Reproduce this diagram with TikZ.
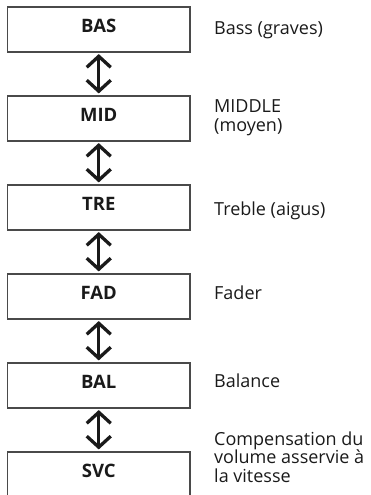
\documentclass[tikz,border=0pt]{standalone}
\usepackage{fontspec}
\setmainfont{Open Sans}
\usetikzlibrary{arrows.meta}
\definecolor{ink}{HTML}{1A1A1A}
\definecolor{frame}{HTML}{4A4A4A}
\tikzset{
  menubox/.style={draw=frame, line width=1.1pt, minimum width=182.5pt, minimum height=45pt,
    inner sep=0pt, text=ink, font=\fontsize{18.5}{20}\bfseries\selectfont, text height=12.5pt, text depth=7pt},
  sidelabel/.style={anchor=base west, inner sep=0pt, align=left, text=ink, font=\fontsize{18}{18.5}\selectfont},
  updown/.style={draw=ink, line width=3.3pt, line join=miter,
    {Straight Barb[length=11pt,width=24pt,line join=miter]}-{Straight Barb[length=11pt,width=24pt,line join=miter]},
    shorten <=1.5pt, shorten >=2pt}
}
\begin{document}
\begin{tikzpicture}[x=1pt,y=-1pt]
\useasboundingbox (0,0) rectangle (371,495);
\node[menubox] (bas) at (98.75,29.5) {BAS};
\node[menubox] (mid) at (98.75,118.5) {MID};
\node[menubox] (tre) at (98.75,207.5) {TRE};
\node[menubox] (fad) at (98.75,296.5) {FAD};
\node[menubox] (bal) at (98.75,385.5) {BAL};
\node[menubox] (svc) at (98.75,474.5) {SVC};
\draw[updown] (bas.south) -- (mid.north);
\draw[updown] (mid.south) -- (tre.north);
\draw[updown] (tre.south) -- (fad.north);
\draw[updown] (fad.south) -- (bal.north);
\draw[updown] (bal.south) -- (svc.north);
\node[sidelabel] (lbas) at (214,35) {Bass (graves)};
\node[sidelabel] (lmid) at (214,131) {MIDDLE\\(moyen)};
\node[sidelabel] (ltre) at (214,215) {Treble (aigus)};
\node[sidelabel] (lfad) at (214,299) {Fader};
\node[sidelabel] (lbal) at (214,387) {Balance};
\node[sidelabel] (lsvc) at (214,482) {Compensation du\\volume asservie à\\la vitesse};
\end{tikzpicture}
\end{document}
